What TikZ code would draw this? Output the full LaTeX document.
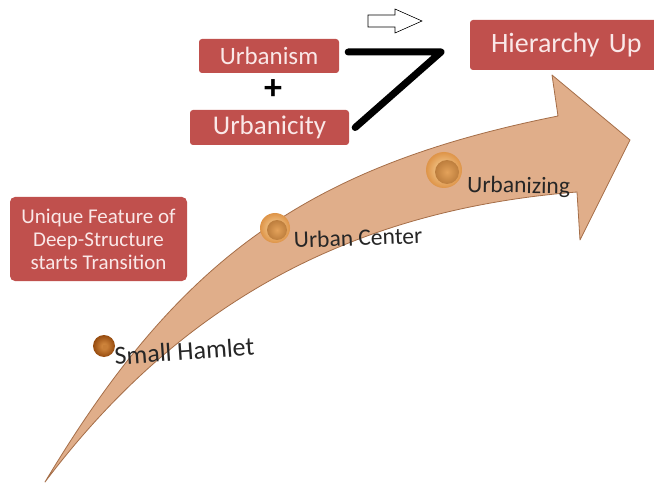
\documentclass[tikz,border=0pt]{standalone}
\usepackage{fontspec}
\setmainfont{Carlito}
\definecolor{arrowfill}{RGB}{224,174,138}
\definecolor{arrowline}{RGB}{165,110,72}
\definecolor{boxred}{RGB}{192,80,77}
\definecolor{boxtext}{RGB}{250,232,232}
\definecolor{beadlight}{RGB}{250,218,165}
\definecolor{beadmid}{RGB}{222,148,72}
\definecolor{beaddark}{RGB}{150,75,15}
\begin{document}
\begin{tikzpicture}[x=1pt,y=-1pt,
  redbox/.style={fill=boxred, rounded corners=3pt, text=boxtext, inner sep=0pt, align=center},
  steplabel/.style={text=black!85, anchor=base west, inner sep=0pt},
  connector/.style={line width=7pt, line cap=round, line join=round, draw=black}
]
\useasboundingbox (0,0) rectangle (654,484);
\fill[white] (0,0) rectangle (654,484);

% big curved arrow
\filldraw[fill=arrowfill, draw=arrowline, line width=0.8pt, line join=round]
 (45,482) .. controls (179,258) and (308,166) .. (558,116)
 -- (552,75) -- (630,140) -- (580,240) -- (577,192)
 .. controls (352,210) and (181,302) .. (45,482) -- cycle;

% beads
\shade[inner color=beadlight, outer color=beadmid] (444,170) circle[radius=18];
\shade[inner color=beadmid!80!beadlight, outer color=beadmid!85!black] (447,172) circle[radius=12];
\shade[inner color=beadlight, outer color=beadmid] (275,228) circle[radius=15];
\shade[inner color=beadmid!80!beadlight, outer color=beadmid!85!black] (277,230) circle[radius=10];
\shade[inner color=beadmid, outer color=beaddark] (104,346) circle[radius=11];
\fill[beadmid!70!beaddark] (105,347) circle[radius=2.5];

% stage labels
\node[steplabel, rotate=4, font=\fontsize{26}{30}\selectfont] (hamlet) at (115,365) {Small Hamlet};
\node[steplabel, rotate=2, font=\fontsize{23.5}{28}\selectfont] (center) at (294,248) {Urban Center};
\node[steplabel, rotate=-1, font=\fontsize{23.5}{28}\selectfont] (urbanizing) at (467,192) {Urbanizing};

% red boxes
\node[redbox, minimum width=140, minimum height=34, font=\fontsize{25}{29}\selectfont] (um) at (269,56) {Urbanism};
\node[redbox, minimum width=159, minimum height=35, font=\fontsize{27}{31}\selectfont] (uc) at (269.5,127.5) {Urbanicity};
\node[font=\bfseries\fontsize{36}{36}\selectfont, inner sep=0pt] (plus) at (273,90) {+};
\node[redbox, minimum width=200, minimum height=50, font=\fontsize{28}{32}\selectfont, text width=200, align=left] (hier) at (570,45) {\hspace*{21pt}Hierarchy Up};
\node[redbox, rounded corners=5pt, minimum width=177, minimum height=84, font=\fontsize{21}{23}\selectfont] (unique) at (98.5,239) {Unique Feature of\\Deep-Structure\\starts Transition};

% connector
\coordinate (bend) at (441,52);
\draw[connector] ([shift={(9,-4)}]um.east) -- (bend) -- ([shift={(6,0)}]uc.east);

% small hollow arrow
\draw[line width=0.6pt, fill=white, line join=miter] (368,15) -- (395,15) -- (395,9) -- (422,21) -- (395,33) -- (395,27) -- (368,27) -- cycle;
\end{tikzpicture}
\end{document}
